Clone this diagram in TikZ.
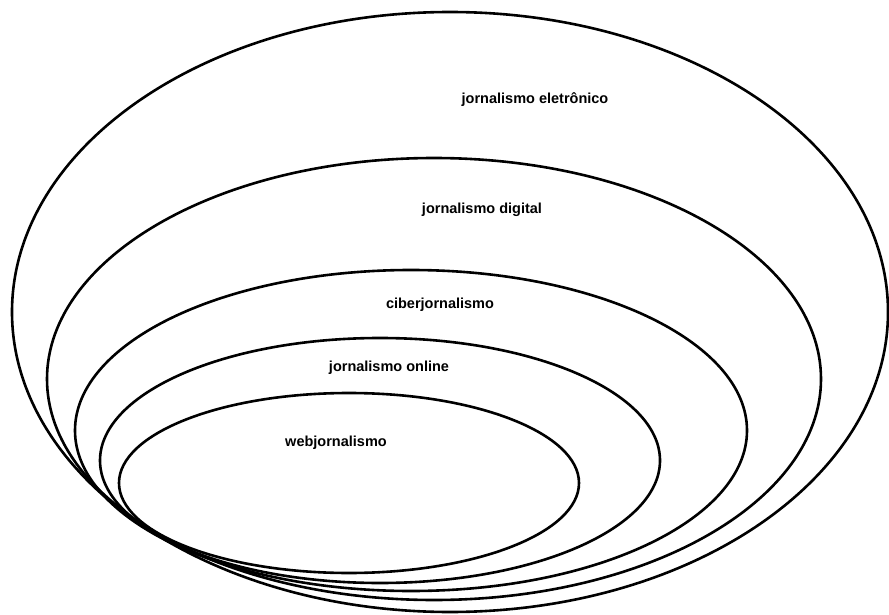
\documentclass[tikz,border=0pt]{standalone}
\usepackage{fontspec}
\setmainfont{Liberation Sans}
\begin{document}
\begin{tikzpicture}[x=1pt,y=-1pt,
  ring/.style={draw=black,line width=2.6pt},
  lab/.style={font=\fontsize{14.5}{16}\selectfont\bfseries,inner sep=0pt}]
\useasboundingbox[fill=white] (0,0) rectangle (889,615);
\draw[ring] (450,312) ellipse [x radius=438, y radius=300];
\draw[ring] (434,379) ellipse [x radius=387, y radius=221];
\draw[ring] (411,430.5) ellipse [x radius=336, y radius=160.5];
\draw[ring] (380,460.5) ellipse [x radius=280, y radius=122.5];
\draw[ring] (349,483) ellipse [x radius=230, y radius=90];
\node[lab] (e) at (535,100) {jornalismo eletrônico};
\node[lab] (d) at (482,210) {jornalismo digital};
\node[lab] (c) at (440,305) {ciberjornalismo};
\node[lab] (o) at (389,368) {jornalismo online};
\node[lab] (w) at (336,443) {webjornalismo};
\end{tikzpicture}
\end{document}
